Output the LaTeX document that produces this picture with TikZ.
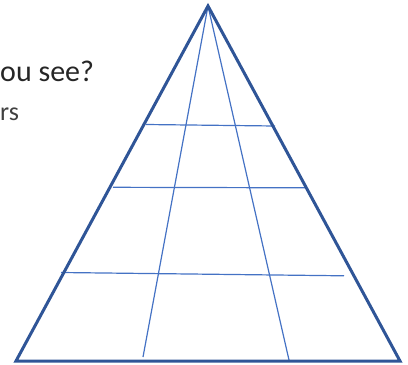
\documentclass[tikz,border=0pt]{standalone}
\usepackage{fontspec}
\setmainfont{Carlito}
\definecolor{darkblue}{HTML}{2F5597}
\definecolor{midblue}{HTML}{4472C4}
\definecolor{txtdark}{HTML}{262626}
\definecolor{txtgray}{HTML}{404040}
\tikzset{
  outline/.style={draw=darkblue, line width=3pt, line join=miter},
  inner/.style={draw=midblue, line width=1.2pt},
}
\begin{document}
\begin{tikzpicture}[x=1pt,y=-1pt]
\useasboundingbox (0,0) rectangle (408,365);
\node[anchor=base west, inner sep=0, text=txtdark, font=\fontsize{30}{35}\selectfont] (q) at (0,81) {ou see?};
\node[anchor=base west, inner sep=0, text=txtgray, font=\fontsize{26}{31}\selectfont] (r) at (0,120) {rs};
\coordinate (A) at (208,6);
\coordinate (L) at (16,361);
\coordinate (R) at (400,361);
\coordinate (b1) at (143,357);
\coordinate (b2) at (289,360);
\coordinate (h1l) at (146,124.5);
\coordinate (h1r) at (275,126);
\coordinate (h2l) at (113,187.3);
\coordinate (h2r) at (306,187.8);
\coordinate (h3l) at (61,272.5);
\coordinate (h3r) at (344,275.8);
\draw[inner] (A) -- (b1);
\draw[inner] (A) -- (b2);
\draw[inner] (h1l) -- (h1r);
\draw[inner] (h2l) -- (h2r);
\draw[inner] (h3l) -- (h3r);
\draw[outline] (A) -- (L) -- (R) -- cycle;
\end{tikzpicture}
\end{document}
